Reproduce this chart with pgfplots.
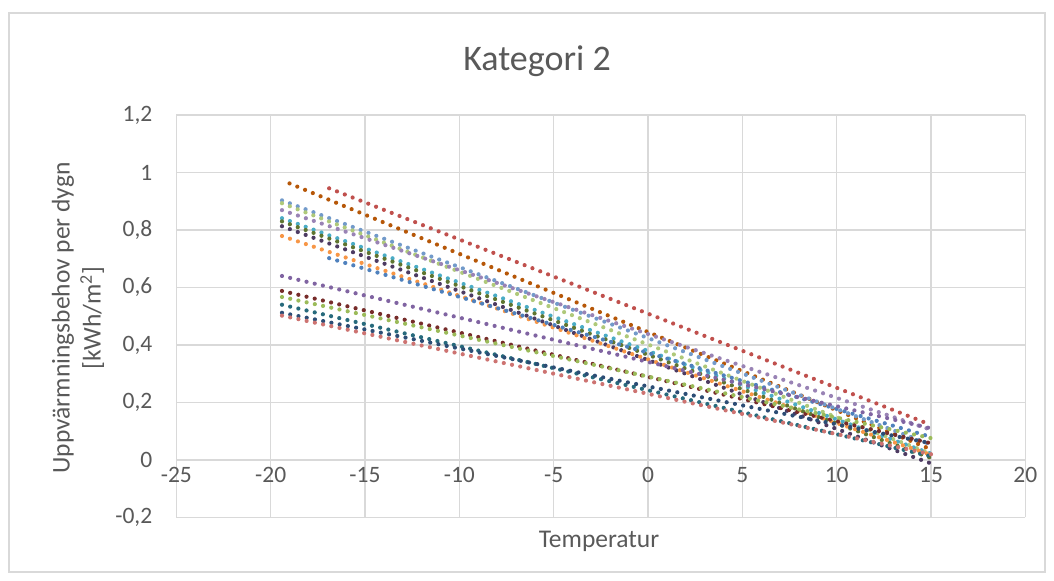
\documentclass[border=0pt]{standalone}
\usepackage{fontspec}
\setmainfont{Carlito}
\usepackage{pgfplots}
\pgfplotsset{compat=1.18}
\definecolor{txt}{HTML}{595959}
\definecolor{gridc}{HTML}{D9D9D9}
\definecolor{cRed}{HTML}{C0504D}
\definecolor{cDOrange}{HTML}{B65708}
\definecolor{cLBlue}{HTML}{729ACA}
\definecolor{cLGreen}{HTML}{AFC97A}
\definecolor{cLPurple}{HTML}{9983B5}
\definecolor{cAqua}{HTML}{4BACC6}
\definecolor{cOlive}{HTML}{5F7530}
\definecolor{cDPurple}{HTML}{4D3B62}
\definecolor{cOrange}{HTML}{F79646}
\definecolor{cBlue}{HTML}{4F81BD}
\definecolor{cPurple}{HTML}{8064A2}
\definecolor{cDRed}{HTML}{772C2A}
\definecolor{cGreen}{HTML}{9BBB59}
\definecolor{cDTeal}{HTML}{276A7C}
\definecolor{cDBlue}{HTML}{2C4D75}
\definecolor{cSalmon}{HTML}{CD7371}
\pgfplotsset{dl/.style={line width=2.1pt, line cap=round, dash pattern=on 0pt off 4.2pt, mark=none}}
\begin{document}
\begin{tikzpicture}[x=1pt,y=1pt]
\useasboundingbox (0,0) rectangle (527,290.5);
\draw[gridc, line width=0.75pt] (4.5,4.5) rectangle (522.5,284);
\node[txt, font=\fontsize{18}{22}\selectfont] at (268.5,260) {Kategori 2};
\begin{axis}[at={(324pt,60.5pt)}, anchor=origin, scale only axis,
  width=424.5pt, height=201.25pt,
  xmin=-25, xmax=20, ymin=-0.2, ymax=1.2,
  xtick={-25,-20,-15,-10,-5,0,5,10,15,20},
  ytick={-0.2,0,0.2,0.4,0.6,0.8,1,1.2},
  xticklabels={-25,-20,-15,-10,-5,0,5,10,15,20},
  yticklabels={{-0,2},0,{0,2},{0,4},{0,6},{0,8},1,{1,2}},
  axis x line*=middle, axis y line*=left,
  hide obscured x ticks=false, hide obscured y ticks=false,
  axis line style={gridc, line width=0.75pt},
  major tick length=0pt,
  grid=major, grid style={gridc, line width=0.75pt},
  tick label style={txt, font=\fontsize{11.75}{14}\selectfont},
  yticklabel style={xshift=-8.5pt},
]
\addplot[dl, cRed] coordinates {(-16.9,0.945) (15,0.122)};
\addplot[dl, cDOrange] coordinates {(-19.0,0.962) (15,0.037)};
\addplot[dl, cLBlue] coordinates {(-19.4,0.903) (15,0.054)};
\addplot[dl, cLGreen] coordinates {(-19.4,0.893) (15,0.022)};
\addplot[dl, cLPurple] coordinates {(-19.4,0.869) (15,0.105)};
\addplot[dl, cAqua] coordinates {(-19.4,0.841) (15,0.022)};
\addplot[dl, cOlive] coordinates {(-19.4,0.830) (15,0.007)};
\addplot[dl, cDPurple] coordinates {(-19.4,0.813) (15,-0.012)};
\addplot[dl, cOrange] coordinates {(-19.4,0.779) (15,0.018)};
\addplot[dl, cBlue] coordinates {(-16.9,0.702) (15,0.080)};
\addplot[dl, cPurple] coordinates {(-19.4,0.640) (15,0.110)};
\addplot[dl, cDRed] coordinates {(-19.4,0.588) (15,0.058)};
\addplot[dl, cGreen] coordinates {(-19.4,0.567) (15,0.076)};
\addplot[dl, cDTeal] coordinates {(-19.4,0.540) (15,0.013)};
\addplot[dl, cDBlue] coordinates {(-19.4,0.512) (15,0.058)};
\addplot[dl, cSalmon] coordinates {(-19.4,0.502) (15,0.020)};
\end{axis}
\node[txt, font=\fontsize{12.75}{15}\selectfont] at (299.5,20) {Temperatur};
\node[txt, font=\fontsize{12.75}{15.5}\selectfont, rotate=90, align=center] at (39,131.5) {Uppvärmningsbehov per dygn\\{[kWh/m\textsuperscript{2}]}};
\end{tikzpicture}
\end{document}
